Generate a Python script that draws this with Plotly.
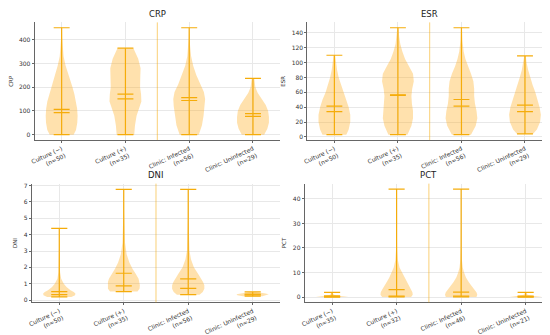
import plotly.graph_objects as go

# ---------------- data ----------------
labels_crp_esr_dni = ["Culture (−)<br>(n=50)", "Culture (+)<br>(n=35)",
                      "Clinic: Infected<br>(n=56)", "Clinic: Uninfected<br>(n=29)"]
labels_pct = ["Culture (−)<br>(n=35)", "Culture (+)<br>(n=32)",
              "Clinic: Infected<br>(n=46)", "Clinic: Uninfected<br>(n=21)"]
positions = [1, 2, 3, 4]

crp_min = [0, 0, 0, 0]
crp_max = [450, 364, 450, 237]
crp_mean = [107, 171, 156, 89]
crp_median = [93, 151, 144, 77]
crp_kde_y = [
    [0, 20, 50, 80, 110, 140, 170, 200, 230, 260, 290, 330, 370, 410, 450],
    [0, 40, 80, 110, 140, 170, 200, 240, 280, 320, 364],
    [0, 40, 80, 120, 150, 180, 210, 250, 290, 330, 370, 410, 450],
    [0, 25, 50, 75, 100, 125, 150, 175, 200, 237],
]
crp_kde_w = [
    [0.75, 0.9, 0.98, 1.0, 0.97, 0.9, 0.8, 0.68, 0.52, 0.38, 0.25, 0.12, 0.06, 0.03, 0.02],
    [0.55, 0.6, 0.7, 0.85, 1.0, 0.98, 0.92, 0.93, 0.95, 0.8, 0.5],
    [0.6, 0.8, 0.9, 0.97, 1.0, 0.92, 0.7, 0.45, 0.25, 0.12, 0.06, 0.03, 0.02],
    [0.7, 0.9, 1.0, 1.0, 0.95, 0.8, 0.55, 0.3, 0.15, 0.08],
]

esr_min = [3, 3, 3, 4]
esr_max = [110, 147, 147, 109]
esr_mean = [41.4, 56.8, 50.4, 42.7]
esr_median = [34.1, 56.0, 41.4, 34.1]
esr_kde_y = [
    [3, 10, 20, 30, 40, 50, 60, 70, 80, 90, 100, 110],
    [3, 15, 25, 35, 45, 55, 65, 75, 85, 95, 105, 115, 125, 135, 147],
    [3, 15, 25, 35, 45, 55, 65, 75, 85, 95, 105, 115, 130, 147],
    [4, 10, 20, 30, 40, 50, 60, 70, 80, 90, 100, 109],
]
esr_kde_w = [
    [0.75, 0.9, 1.0, 1.0, 0.9, 0.75, 0.55, 0.4, 0.27, 0.17, 0.1, 0.05],
    [0.6, 0.85, 0.95, 0.95, 0.88, 0.85, 0.9, 1.0, 0.95, 0.7, 0.45, 0.28, 0.15, 0.08, 0.04],
    [0.6, 0.9, 1.0, 0.95, 0.85, 0.8, 0.8, 0.75, 0.6, 0.4, 0.25, 0.14, 0.06, 0.03],
    [0.5, 0.75, 0.95, 1.0, 0.92, 0.8, 0.65, 0.48, 0.33, 0.2, 0.1, 0.05],
]

dni_min = [0.19, 0.52, 0.33, 0.24]
dni_max = [4.39, 6.77, 6.77, 0.5]
dni_mean = [0.52, 1.64, 1.30, 0.36]
dni_median = [0.33, 0.87, 0.72, 0.32]
dni_kde_y = [
    [0.19, 0.3, 0.4, 0.5, 0.6, 0.8, 1.0, 1.3, 1.7, 2.5, 3.5, 4.39],
    [0.52, 0.7, 0.9, 1.1, 1.3, 1.6, 1.9, 2.3, 2.8, 3.5, 4.5, 5.5, 6.77],
    [0.33, 0.5, 0.7, 0.9, 1.1, 1.3, 1.6, 2.0, 2.5, 3.0, 4.0, 5.0, 6.77],
    [0.24, 0.3, 0.35, 0.4, 0.45, 0.5],
]
dni_kde_w = [
    [0.75, 0.98, 1.0, 0.9, 0.7, 0.45, 0.28, 0.12, 0.05, 0.02, 0.01, 0.01],
    [0.85, 0.98, 1.0, 0.98, 0.92, 0.75, 0.55, 0.35, 0.18, 0.08, 0.04, 0.02, 0.015],
    [0.7, 0.9, 1.0, 1.0, 0.92, 0.82, 0.62, 0.35, 0.17, 0.08, 0.03, 0.02, 0.015],
    [0.6, 0.95, 1.0, 0.8, 0.45, 0.2],
]

pct_min = [0.02, 0.05, 0.05, 0.02]
pct_max = [1.95, 44.0, 44.0, 1.95]
pct_mean = [0.5, 3.0, 2.0, 0.45]
pct_median = [0.2, 0.4, 0.4, 0.2]
pct_kde_y = [
    [0.02, 0.1, 0.2, 0.4, 0.7, 1.0, 1.5, 1.95],
    [0.05, 1, 2, 3, 4.5, 6, 8, 10, 12, 15, 20, 30, 44],
    [0.05, 1, 2, 3, 4.5, 6, 8, 10, 12, 15, 20, 30, 44],
    [0.02, 0.1, 0.2, 0.4, 0.7, 1.0, 1.5, 1.95],
]
pct_kde_w = [
    [1.0, 0.95, 0.8, 0.5, 0.25, 0.12, 0.05, 0.03],
    [0.9, 1.0, 0.98, 0.9, 0.78, 0.62, 0.45, 0.3, 0.18, 0.08, 0.03, 0.015, 0.01],
    [0.95, 1.0, 0.95, 0.85, 0.65, 0.48, 0.3, 0.18, 0.1, 0.05, 0.02, 0.01, 0.01],
    [1.0, 0.95, 0.8, 0.5, 0.25, 0.12, 0.05, 0.03],
]

# ---------------- styling ----------------
FILL = "rgba(255,170,20,0.35)"
LINE = "rgb(245,172,10)"
SEP = "rgba(245,172,10,0.55)"
GRID = "#e8e8e8"
AX = "#666666"
FONT = "DejaVu Sans"
HALF = 0.25      # max half width of a violin body
CAP = 0.125      # half length of cap / mean / median lines

panels = [
    dict(name="CRP", labels=labels_crp_esr_dni, mn=crp_min, mx=crp_max, mean=crp_mean, med=crp_median,
         ky=crp_kde_y, kw=crp_kde_w, xd=[0.0413, 0.491], yd=[0.591, 0.961],
         yr=[-22.5, 472.5], dt=100),
    dict(name="ESR", labels=labels_crp_esr_dni, mn=esr_min, mx=esr_max, mean=esr_mean, med=esr_median,
         ky=esr_kde_y, kw=esr_kde_w, xd=[0.541, 0.989], yd=[0.591, 0.961],
         yr=[-4.2, 154.2], dt=20),
    dict(name="DNI", labels=labels_crp_esr_dni, mn=dni_min, mx=dni_max, mean=dni_mean, med=dni_median,
         ky=dni_kde_y, kw=dni_kde_w, xd=[0.0364, 0.491], yd=[0.0806, 0.454],
         yr=[-0.14, 7.12], dt=1),
    dict(name="PCT", labels=labels_pct, mn=pct_min, mx=pct_max, mean=pct_mean, med=pct_median,
         ky=pct_kde_y, kw=pct_kde_w, xd=[0.536, 0.991], yd=[0.0806, 0.454],
         yr=[-2.15, 46.2], dt=10),
]

fig = go.Figure()
layout = dict(
    width=550, height=335, margin=dict(l=0, r=0, t=0, b=0),
    paper_bgcolor="white", plot_bgcolor="white", showlegend=False,
    font=dict(family=FONT, size=6, color="#333333"),
    annotations=[], shapes=[],
)

XR = [0.575, 4.425]
for i, p in enumerate(panels):
    k = "" if i == 0 else str(i + 1)
    xa, ya = "x" + k, "y" + k
    # violin bodies
    for j, pos in enumerate(positions):
        ys = p["ky"][j]
        ws = p["kw"][j]
        xs = [pos + HALF * w for w in ws] + [pos - HALF * w for w in reversed(ws)]
        yy = list(ys) + list(reversed(ys))
        fig.add_trace(go.Scatter(x=xs, y=yy, fill="toself", fillcolor=FILL, mode="lines",
                                 line=dict(width=0, color=FILL), xaxis=xa, yaxis=ya,
                                 hoverinfo="skip"))
    # bars, caps, means, medians
    lx, ly = [], []
    for j, pos in enumerate(positions):
        lx += [pos, pos, None]
        ly += [p["mn"][j], p["mx"][j], None]
        for v in (p["mn"][j], p["mx"][j], p["mean"][j], p["med"][j]):
            lx += [pos - CAP, pos + CAP, None]
            ly += [v, v, None]
    fig.add_trace(go.Scatter(x=lx, y=ly, mode="lines", line=dict(color=LINE, width=1.2),
                             xaxis=xa, yaxis=ya, hoverinfo="skip"))
    # separator between culture and clinic groups
    layout["shapes"].append(dict(type="line", xref=xa, yref=ya + " domain", x0=2.5, x1=2.5,
                                 y0=0, y1=1, line=dict(color=SEP, width=1)))
    layout["xaxis" + k] = dict(
        domain=p["xd"], anchor=ya, range=XR, tickmode="array", tickvals=positions,
        ticktext=p["labels"], tickangle=-25, showgrid=True, gridcolor=GRID, gridwidth=0.8,
        zeroline=False, showline=True, linecolor=AX, linewidth=1, ticks="outside",
        ticklen=2, tickcolor=AX, tickfont=dict(size=6, color="#333333"))
    layout["yaxis" + k] = dict(
        domain=p["yd"], anchor=xa, range=p["yr"], dtick=p["dt"], tick0=0, showgrid=True,
        gridcolor=GRID, gridwidth=0.8, zeroline=False, showline=True, linecolor=AX,
        linewidth=1, ticks="outside", ticklen=2, tickcolor=AX,
        tickfont=dict(size=6, color="#333333"),
        title=dict(text=p["name"], font=dict(size=5.5, color="#333333"), standoff=5))
    layout["annotations"].append(dict(
        text=p["name"], xref="paper", yref="paper", x=(p["xd"][0] + p["xd"][1]) / 2,
        y=p["yd"][1] + 0.005, xanchor="center", yanchor="bottom", showarrow=False,
        font=dict(size=8.5, color="#222222")))

fig.update_layout(**layout)
fig.write_html("out.html")
